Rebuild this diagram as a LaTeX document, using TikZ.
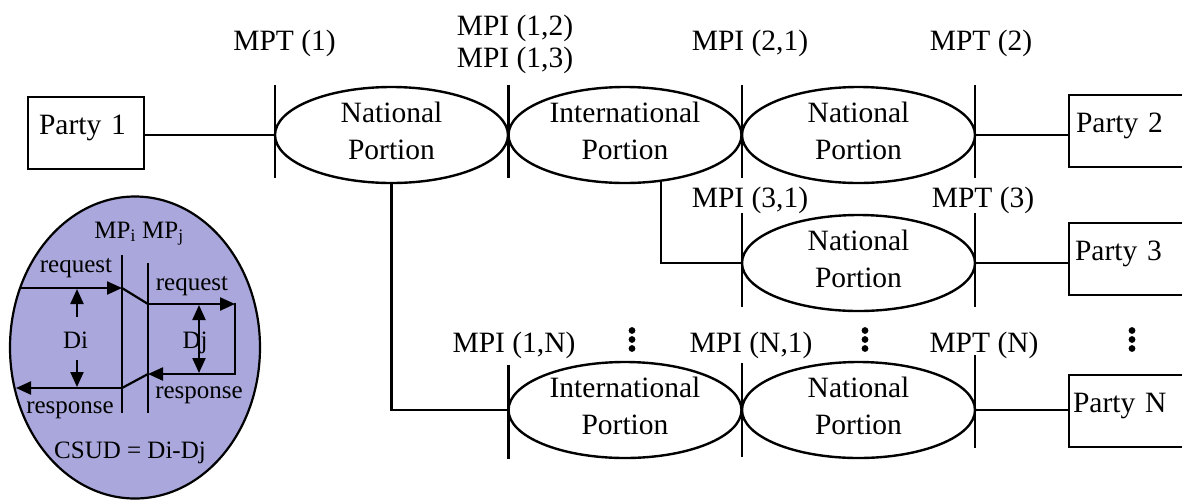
\documentclass[tikz,border=0pt]{standalone}
\usepackage{fontspec}
\setmainfont{Liberation Serif}
\usetikzlibrary{arrows.meta,shapes.geometric}
\definecolor{ovalfill}{HTML}{A9A7DB}
\begin{document}
\begin{tikzpicture}[x=1pt,y=1pt,
  every node/.style={font=\fontsize{29.5}{37}\selectfont},
  portion/.style={draw, ellipse, line width=2.4pt, minimum width=233pt, minimum height=96pt,
    inner sep=0pt, outer sep=0pt, align=center},
  party/.style={draw, line width=2.3pt, anchor=north west, inner ysep=0pt, outer sep=0pt,
    text height=37pt, text depth=35pt, align=left},
  lbl/.style={inner sep=0pt, anchor=base},
  wire/.style={line width=2.2pt},
  small/.style={font=\fontsize{25}{30}\selectfont, inner sep=0pt, anchor=base},
  arr/.style={line width=2.2pt, -{Triangle[length=15pt,width=13pt]}},
  darr/.style={line width=2.2pt, {Triangle[length=15pt,width=13pt]}-{Triangle[length=15pt,width=13pt]}},
]
\useasboundingbox (0,0) rectangle (1182,-499);

% ---------- parties ----------
\node[party, inner xsep=11pt, text width=94pt] (p1) at (28,-97) {Party 1};
\node[party, inner xsep=7pt, text width=120pt] (p2) at (1069,-95) {Party 2};
\node[party, inner xsep=6pt, text width=120pt] (p3) at (1069,-223) {Party 3};
\node[party, inner xsep=4pt, text width=120pt] (pN) at (1069,-375) {Party N};

% ---------- portions ----------
\newcommand{\portxt}[2]{#1\\#2\rule[-9pt]{0pt}{9pt}}
\node[portion] (n1) at (391.5,-135) {\portxt{National}{Portion}};
\node[portion] (i1) at (625,-135) {\portxt{International}{Portion}};
\node[portion] (n2) at (858.5,-135) {\portxt{National}{Portion}};
\node[portion] (n3) at (858.5,-263) {\portxt{National}{Portion}};
\node[portion] (iN) at (625,-410) {\portxt{International}{Portion}};
\node[portion] (nN) at (858.5,-410) {\portxt{National}{Portion}};

% ---------- measurement point bars ----------
\foreach \e in {n1,i1,n2} {
  \draw[wire] ([yshift=50pt]\e.west) -- ([yshift=-43pt]\e.west);
}
\draw[wire] ([yshift=50pt]n2.east) -- ([yshift=-43pt]n2.east);
\draw[wire] ([yshift=50pt]n3.west) -- ([yshift=-44pt]n3.west);
\draw[wire] ([yshift=50pt]n3.east) -- ([yshift=-44pt]n3.east);
\draw[wire] ([yshift=45pt]iN.west) -- ([yshift=-49pt]iN.west);
\draw[wire] ([yshift=47pt]nN.west) -- ([yshift=-47pt]nN.west);
\draw[wire] ([yshift=55pt]nN.east) -- ([yshift=-38pt]nN.east);

% ---------- connectors ----------
\draw[wire] (p1.east |- n1.west) -- (n1.west);
\draw[wire] (n2.east) -- (n2.east -| p2.west);
\draw[wire] (n3.east) -- (n3.east -| p3.west);
\draw[wire] (nN.east) -- (nN.east -| pN.west);
\draw[wire] (n1.south) |- (iN.west);
\draw[wire] (i1.-52) |- (n3.west);

% ---------- labels ----------
\node[lbl] (mpt1) at (284.5,-50) {MPT (1)};
\node[lbl] (mpi12) at (515,-35) {MPI (1,2)};
\node[lbl] (mpi13) at (515,-67) {MPI (1,3)};
\node[lbl] (mpi21) at (750,-50) {MPI (2,1)};
\node[lbl] (mpt2) at (981,-50) {MPT (2)};
\node[lbl] (mpi31) at (750,-207) {MPI (3,1)};
\node[lbl] (mpt3) at (983,-207) {MPT (3)};
\node[lbl] (mpi1N) at (514,-352) {MPI (1,N)};
\node[lbl] (mpiN1) at (751,-352) {MPI (N,1)};
\node[lbl] (mptN) at (984,-352) {MPT (N)};

% vertical ellipses
\foreach \c/\x in {d1/632, d2/865, d3/1132} {
  \coordinate (\c) at (\x,-339.5);
  \foreach \dy in {-9,0,9} \fill ([yshift=\dy pt]\c) circle (3.4pt);
}

% ---------- CSUD oval ----------
\node[draw, ellipse, line width=2.2pt, fill=ovalfill, minimum width=250pt, minimum height=302pt,
  inner sep=0pt] (oval) at (135,-347.5) {};

\node[small] (mp) at (139,-238) {MP\textsubscript{i} MP\textsubscript{j}};
\node[small] (reqL) at (76,-272) {request};
\node[small] (reqR) at (192,-290) {request};
\node[small] (resR) at (199,-398) {response};
\node[small] (resL) at (70,-413) {response};
\node[small] (di) at (75.5,-348) {Di};
\node[small] (dj) at (195,-348) {Dj};
\node[small] (csud) at (130,-458) {CSUD = Di-Dj};

\coordinate (v1t) at (122,-255);
\coordinate (v1b) at (122,-413);
\coordinate (v2t) at (148,-263);
\coordinate (v2b) at (148,-413);
\draw[wire] (v1t) -- (v1b);
\draw[wire] (v2t) -- (v2b);

\coordinate (a0) at (20,-288);
\coordinate (a1) at (122,-288);
\coordinate (a2) at (148,-304);
\coordinate (a3) at (235,-304);
\coordinate (a4) at (235,-374);
\coordinate (a5) at (148,-374);
\coordinate (a6) at (122,-388);
\coordinate (a7) at (16,-388);

\draw[arr] (a0) -- (a1);
\draw[wire] (a1) -- (a2);
\draw[arr] (a2) -- (a3);
\draw[wire, line join=miter] ([yshift=1.1pt]a3) -- (a4) -- ([xshift=-1pt]a4);
\draw[arr] (a4) -- (a5);
\draw[wire] (a5) -- (a6);
\draw[arr] (a6) -- (a7);

\coordinate (di1) at (77,-317);
\coordinate (di2) at (77,-289);
\coordinate (di3) at (77,-360);
\coordinate (di4) at (77,-387);
\draw[arr] (di1) -- (di2);
\draw[arr] (di3) -- (di4);

\coordinate (dj1) at (199,-305);
\coordinate (dj2) at (199,-373);
\draw[darr] (dj1) -- (dj2);
\end{tikzpicture}
\end{document}
